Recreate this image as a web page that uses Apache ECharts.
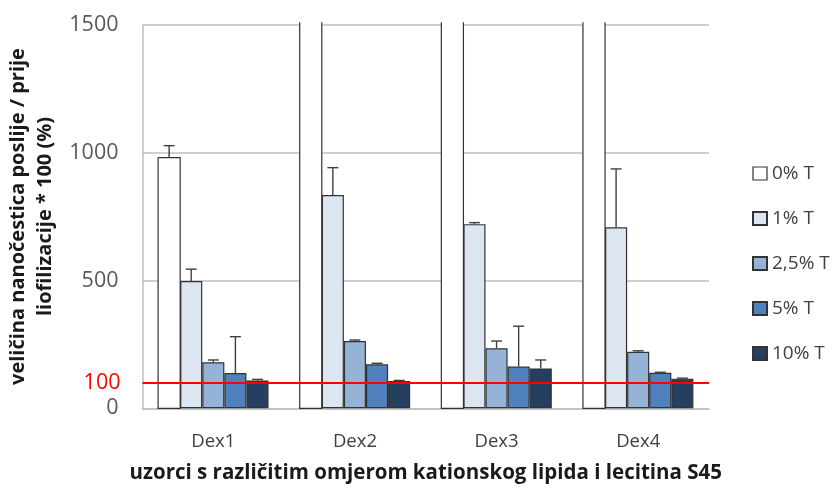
<!DOCTYPE html>
<html>
<head>
<meta charset="utf-8">
<script src="https://cdn.jsdelivr.net/npm/echarts@6/dist/echarts.min.js"></script>
<style>html,body{margin:0;padding:0;background:#fff}#c{width:833px;height:488px}</style>
</head>
<body>
<div id="c"></div>
<script>
const categories = ['Dex1', 'Dex2', 'Dex3', 'Dex4'];
const seriesNames = ['0% T', '1% T', '2,5% T', '5% T', '10% T'];
// bar values (0% T for Dex2-Dex4 run off the top of the axis)
const t0 = [980, 1510, 1510, 1510];
const t1 = [498, 834, 720, 708];
const t25 = [180, 263, 235, 221];
const t5 = [138, 172, 163, 139];
const t10 = [109, 107, 156, 116];
// upper ends of the error bars (null = not visible)
const t0Err = [1027, null, null, null];
const t1Err = [544, 941, 726, 936];
const t25Err = [189, 267, 263, 225];
const t5Err = [280, 176, 321, 141];
const t10Err = [113, 109, 189, 118];
const yTicks = [0, 500, 1000, 1500];
const refValue = 100;

const FONT = 'Open Sans';
const colors = ['#ffffff', '#dce6f2', '#95b3d7', '#4f81bd', '#243f60'];
const values = [t0, t1, t25, t5, t10];
const errs = [t0Err, t1Err, t25Err, t5Err, t10Err];
const GAP = 0.22;
const BORDER = '#333333';
const YMAX = yTicks[yTicks.length - 1];

const barSeries = values.map((v, k) => ({
  name: seriesNames[k],
  type: 'bar',
  data: v,
  barGap: '0%',
  barCategoryGap: (GAP * 100) + '%',
  clip: k !== 0,
  itemStyle: k === 0
    ? { color: colors[k], borderWidth: 0 }
    : { color: colors[k], borderColor: BORDER, borderWidth: 1.2 },
  emphasis: { disabled: true },
  z: 2
}));

// outline of the 0% T bars (open at the top where the bar leaves the axis)
const outlineSeries = {
  type: 'custom',
  z: 3,
  silent: true,
  data: t0.map((v, i) => [i, v]),
  renderItem: function (params, api) {
    const cw = api.size([1, 0])[0];
    const bw = cw * (1 - GAP) / 5;
    const cx = api.coord([api.value(0), 0])[0] + (0 - 2) * bw;
    const l = cx - bw / 2, r = cx + bw / 2;
    const yb = api.coord([api.value(0), 0])[1];
    const yt = api.coord([api.value(0), api.value(1)])[1];
    const pts = api.value(1) > YMAX
      ? [[l, yt], [l, yb], [r, yb], [r, yt]]
      : [[l, yt], [l, yb], [r, yb], [r, yt], [l, yt]];
    return { type: 'polyline', shape: { points: pts }, style: { stroke: BORDER, lineWidth: 1.2, fill: null } };
  }
};

const errSeries = errs.map((e, k) => ({
  type: 'custom',
  z: 6,
  silent: true,
  data: e.map((top, i) => top == null ? null : [i, values[k][i], top]).filter(d => d),
  renderItem: function (params, api) {
    const cw = api.size([1, 0])[0];
    const bw = cw * (1 - GAP) / 5;
    const x = api.coord([api.value(0), 0])[0] + (k - 2) * bw;
    const y1 = api.coord([api.value(0), api.value(1)])[1];
    const y2 = api.coord([api.value(0), api.value(2)])[1];
    const st = { stroke: '#404040', lineWidth: 1.4 };
    return {
      type: 'group',
      children: [
        { type: 'line', shape: { x1: x, y1: y1, x2: x, y2: y2 }, style: st },
        { type: 'line', shape: { x1: x - 5.5, y1: y2, x2: x + 5.5, y2: y2 }, style: st }
      ]
    };
  }
}));

const refSeries = {
  type: 'line',
  data: [],
  z: 10,
  silent: true,
  markLine: {
    silent: true,
    symbol: 'none',
    lineStyle: { color: '#ff0000', width: 2, type: 'solid' },
    label: { show: true, position: 'start', formatter: String(refValue), color: '#ff0000', fontSize: 21.5, fontFamily: FONT, distance: 22 },
    data: [{ yAxis: refValue }],
    animation: false
  }
};

const chart = echarts.init(document.getElementById('c'));
chart.setOption({
  animation: false,
  backgroundColor: '#ffffff',
  grid: { left: 142.5, right: 124, top: 24.7, bottom: 79.7, outerBoundsMode: 'none', containLabel: false },
  legend: {
    data: seriesNames.map((n, k) => k === 0
      ? { name: n, itemStyle: { color: '#ffffff', borderColor: BORDER, borderWidth: 1.2 } }
      : { name: n }),
    orient: 'vertical',
    left: 747,
    top: 159,
    itemWidth: 14,
    itemHeight: 13,
    itemGap: 26,
    icon: 'rect',
    textStyle: { fontSize: 19, color: '#404040', fontFamily: FONT },
    selectedMode: false
  },
  xAxis: {
    type: 'category',
    data: categories,
    name: 'uzorci s različitim omjerom kationskog lipida i lecitina S45',
    nameLocation: 'middle',
    nameGap: 54,
    nameTextStyle: { fontSize: 20.5, fontWeight: 'bold', color: '#1a1a1a', fontFamily: FONT },
    axisLine: { lineStyle: { color: '#bfbfbf', width: 1.5 } },
    axisTick: { show: false },
    axisLabel: { fontSize: 18.5, color: '#404040', margin: 24, fontFamily: FONT }
  },
  yAxis: {
    type: 'value',
    min: yTicks[0],
    max: YMAX,
    interval: 500,
    name: 'veličina nanočestica poslije / prije\nliofilizacije * 100 (%)',
    nameLocation: 'middle',
    nameRotate: 90,
    nameGap: 69,
    nameTextStyle: { fontSize: 20, fontWeight: 'bold', color: '#1a1a1a', fontFamily: FONT, lineHeight: 27 },
    axisLine: { show: true, lineStyle: { color: '#bfbfbf', width: 1.5 } },
    axisTick: { show: false },
    axisLabel: { fontSize: 21.5, color: '#595959', margin: 24, fontFamily: FONT, formatter: v => String(v) },
    splitLine: { lineStyle: { color: '#bfbfbf', width: 1.5 } }
  },
  series: [...barSeries, outlineSeries, ...errSeries, refSeries]
});
</script>
</body>
</html>
